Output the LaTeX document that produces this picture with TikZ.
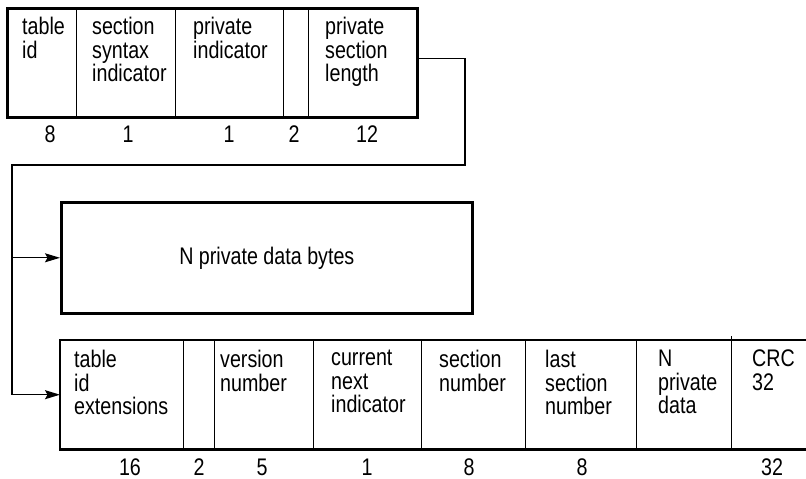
\documentclass[tikz,border=0pt]{standalone}
\usepackage{fontspec}
\setmainfont{Liberation Sans}[FakeStretch=0.82]
\usetikzlibrary{arrows.meta}
\begin{document}
\begin{tikzpicture}[x=1pt,y=-1pt,
  frame/.style={draw, line width=2.6pt, inner sep=0pt, anchor=north west},
  openframe/.style={inner sep=0pt, anchor=north west},
  divider/.style={line width=0.9pt},
  conn/.style={line width=1.2pt},
  arr/.style={-{Stealth[length=15pt,width=9pt,inset=2.5pt]}},
  lbl/.style={anchor=north west, inner sep=0pt, align=left, font=\fontsize{24}{23.5}\selectfont},
  num/.style={inner sep=0pt, font=\fontsize{24}{23.5}\selectfont}]
\useasboundingbox (0,0) rectangle (806,479);
% top box
\node[frame, minimum width=410pt, minimum height=109pt] (top) at (6,7) {};
\foreach \x in {76,175,283,308} \draw[divider] (\x,7) -- (\x,116);
\node[lbl] (t1) at (22,17) {table\\id};
\node[lbl] (t2) at (92,17) {section\\syntax\\indicator};
\node[lbl] (t3) at (193,17) {private\\indicator};
\node[lbl] (t4) at (325,17) {private\\section\\length};
\node[num] (n1) at (50,134) {8};
\node[num] (n2) at (128,134) {1};
\node[num] (n3) at (229,134) {1};
\node[num] (n4) at (294,134) {2};
\node[num] (n5) at (367,134) {12};
% middle box
\node[frame, minimum width=411pt, minimum height=111pt, font=\fontsize{24}{24}\selectfont] (mid) at (60,201) {N private data bytes};
% bottom box
\node[openframe, minimum width=746pt, minimum height=109pt] (bot) at (60,340) {};
\draw[line width=2.6pt] (bot.north east) -- (bot.north west) -- (bot.south west) -- (bot.south east);
\foreach \x in {183,214,313,421,525,636} \draw[divider] (\x,340) -- (\x,449);
\draw[divider] (731,336) -- (731,449);
\node[lbl] (b1) at (74,350) {table\\id\\extensions};
\node[lbl] (b2) at (220,350) {version\\number};
\node[lbl] (b3) at (331,350) {current\\next\\indicator};
\node[lbl] (b4) at (439,350) {section\\number};
\node[lbl] (b5) at (545,350) {last\\section\\number};
\node[lbl] (b6) at (658,350) {N\\private\\data};
\node[lbl] (b7) at (752,350) {CRC\\32};
\node[num] (m1) at (130,467) {16};
\node[num] (m2) at (199,467) {2};
\node[num] (m3) at (262,467) {5};
\node[num] (m4) at (367,467) {1};
\node[num] (m5) at (469,467) {8};
\node[num] (m6) at (582,467) {8};
\node[num] (m7) at (772,467) {32};
% connectors
\coordinate (c1) at (465,165);
\coordinate (c2) at (12,165);
\draw[conn, arr] ([yshift=4pt]top.east) -| (c1) -- (c2) |- (bot.west);
\draw[conn, arr] (c2 |- mid.west) -- (mid.west);
\end{tikzpicture}
\end{document}
